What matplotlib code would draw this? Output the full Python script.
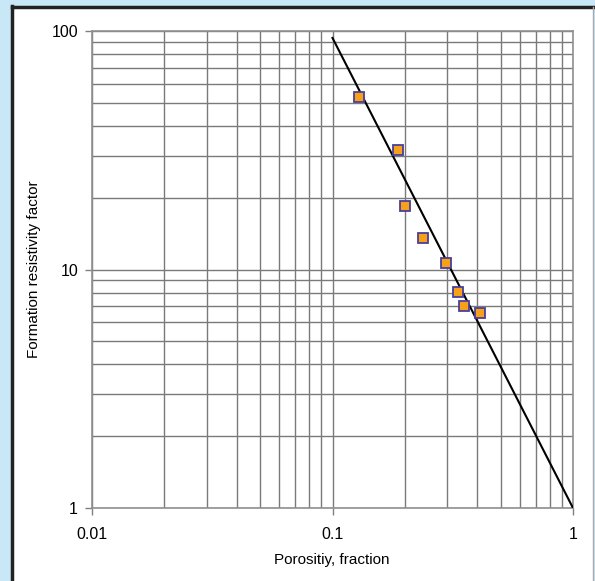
import matplotlib
matplotlib.use("Agg")
import matplotlib.pyplot as plt
from matplotlib.ticker import LogLocator, NullFormatter, FixedLocator, FixedFormatter
from matplotlib.patches import Rectangle
from matplotlib.lines import Line2D

plt.rcParams['font.family'] = ['Liberation Sans', 'DejaVu Sans']

# measured core data
porosity = [0.129, 0.187, 0.201, 0.237, 0.297, 0.332, 0.351, 0.409]
formation_factor = [53.0, 31.7, 18.5, 13.5, 10.6, 8.07, 7.01, 6.55]

# fitted line endpoints
phi_fit = [0.1, 1.0]
F_fit = [93.5, 1.0]

x_ticks = [0.01, 0.1, 1]
x_labels = ['0.01', '0.1', '1']
y_ticks = [1, 10, 100]
y_labels = ['1', '10', '100']

W, H = 595, 581
fig = plt.figure(figsize=(W / 100, H / 100), dpi=100)
fig.patch.set_facecolor('#c8e8f8')

# white panel with dark left/top border
fig.patches.append(Rectangle((12 / W, 0), (593 - 12) / W, (H - 6) / H,
                             transform=fig.transFigure, facecolor='white',
                             edgecolor='none', zorder=-5))
fig.lines.append(Line2D([12 / W, 12 / W], [0, (H - 6) / H], transform=fig.transFigure,
                        color='#222222', lw=2.5, zorder=-4))
fig.lines.append(Line2D([12 / W, 1], [(H - 6.5) / H, (H - 6.5) / H], transform=fig.transFigure,
                        color='#222222', lw=2.5, zorder=-4))
fig.lines.append(Line2D([593 / W, 593 / W], [0, (H - 7) / H], transform=fig.transFigure,
                        color='#aaaaaa', lw=1, zorder=-4))

ax = fig.add_axes([92 / W, 1 - 508 / H, (573 - 92) / W, (508 - 31) / H])
ax.set_zorder(2)
ax.set_facecolor('white')
ax.set_xscale('log')
ax.set_yscale('log')
ax.set_xlim(0.01, 1)
ax.set_ylim(1, 100)

ax.xaxis.set_major_locator(FixedLocator(x_ticks))
ax.xaxis.set_major_formatter(FixedFormatter(x_labels))
ax.yaxis.set_major_locator(FixedLocator(y_ticks))
ax.yaxis.set_major_formatter(FixedFormatter(y_labels))
ax.xaxis.set_minor_locator(LogLocator(base=10, subs=range(2, 10)))
ax.yaxis.set_minor_locator(LogLocator(base=10, subs=range(2, 10)))
ax.xaxis.set_minor_formatter(NullFormatter())
ax.yaxis.set_minor_formatter(NullFormatter())

ax.grid(True, which='both', color='#7a7a7a', lw=1)
ax.set_axisbelow(True)
ax.tick_params(which='major', length=5, width=1, color='#808080', labelsize=11.5)
ax.tick_params(axis='x', which='major', pad=9)
ax.tick_params(axis='y', which='major', pad=5)
ax.tick_params(which='minor', length=0)
for s in ax.spines.values():
    s.set_color('#909090')
    s.set_linewidth(1.2)

ax.plot(phi_fit, F_fit, color='black', lw=1.5, zorder=3)
ax.plot(porosity, formation_factor, 's', ms=7, mfc='#f7a11a', mec='#4a3f9c',
        mew=1.3, zorder=4, clip_on=False)

ax.set_xlabel('Porositiy, fraction', fontsize=11)
ax.set_ylabel('Formation resistivity factor', fontsize=11)
ax.xaxis.set_label_coords((332 - 92) / (573 - 92), -(553 - 508) / (508 - 31))
ax.yaxis.set_label_coords(-(92 - 41) / (573 - 92), 0.5)

fig.savefig('out.png', dpi=100, facecolor=fig.get_facecolor())
